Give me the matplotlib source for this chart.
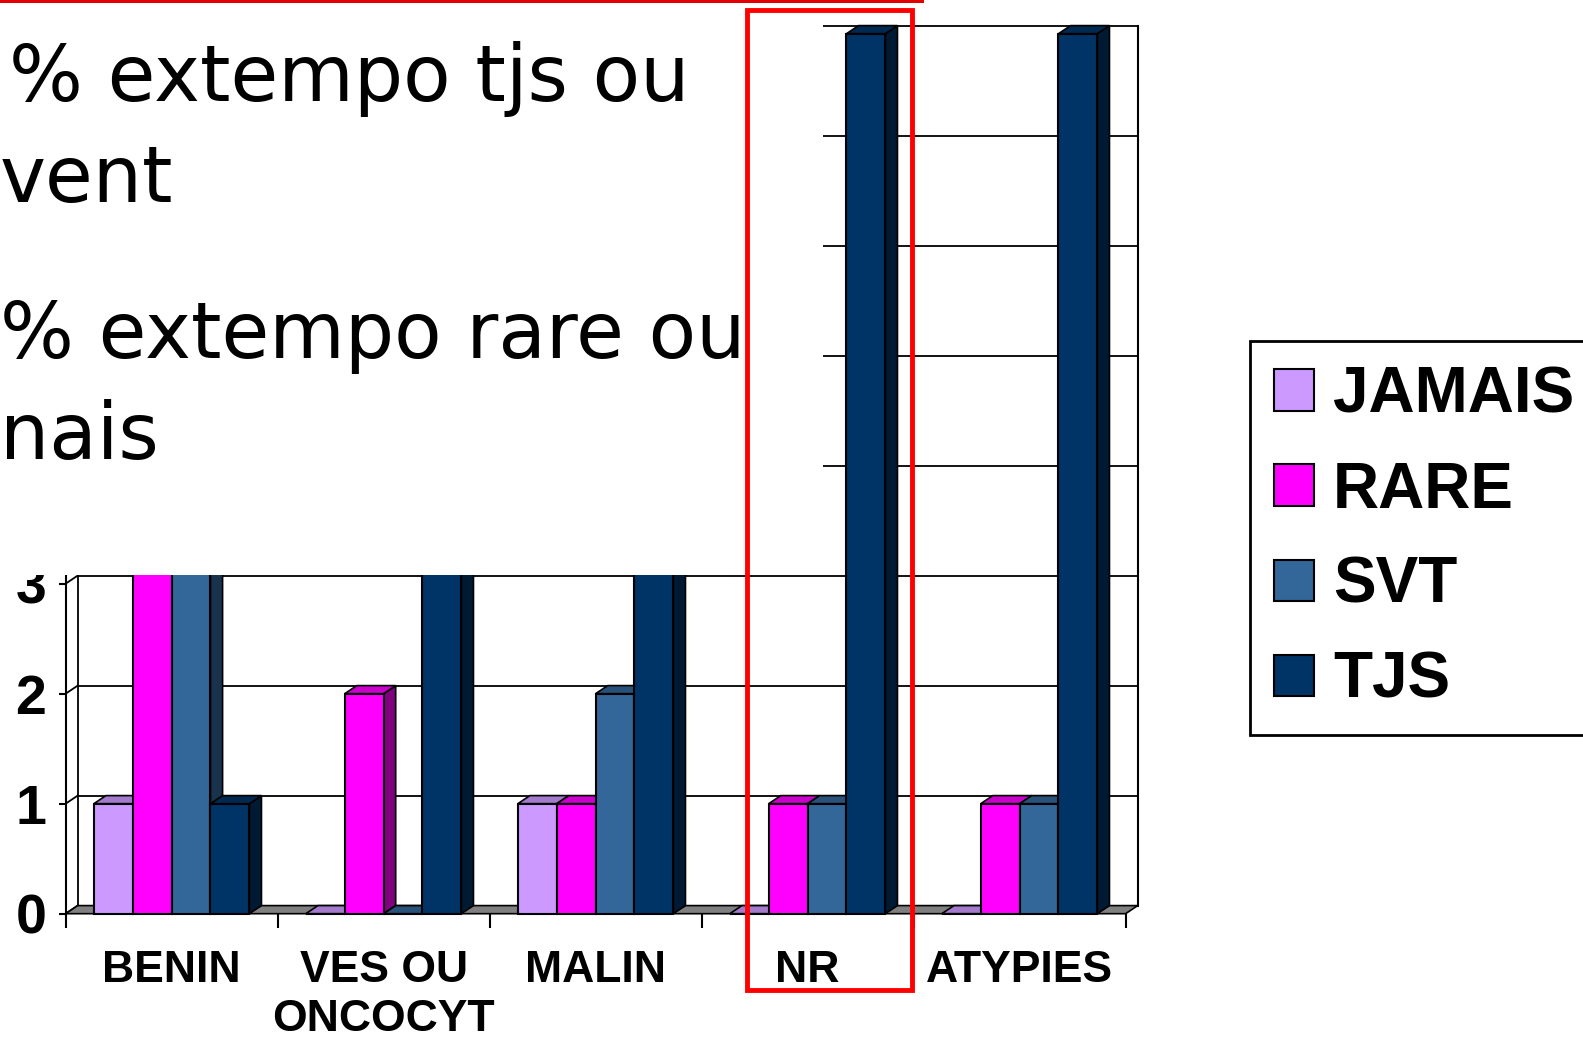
import numpy as np
import matplotlib
matplotlib.use("Agg")
import matplotlib.pyplot as plt
from matplotlib.patches import Polygon, Rectangle
from matplotlib.colors import to_rgb

# data (values above 3 on the left are hidden by the text box)
categories = ["BENIN", "VES OU\nONCOCYT", "MALIN", "NR", "ATYPIES"]
series = ["JAMAIS", "RARE", "SVT", "TJS"]
jamais = [1, 0, 1, 0, 0]
rare = [5, 2, 1, 1, 1]
svt = [4, 0, 2, 1, 1]
tjs = [1, 6, 5, 8, 8]
colors = ["#CC99FF", "#FF00FF", "#336699", "#003366"]
yticks = [0, 1, 2, 3, 4, 5, 6, 7, 8]
ytick_labels = ["0", "1", "2", "3", "", "", "", "", ""]  # upper ones sit under the text box

W, H = 1583, 1041
fig = plt.figure(figsize=(W / 100, H / 100), dpi=100)
ax = fig.add_axes([65.6 / W, 127.3 / H, 1060 / W, 880 / H])
ax.set_xlim(0, 5)
ax.set_ylim(0, 8)
for s in ax.spines.values():
    s.set_visible(False)
ax.patch.set_visible(False)

dx = 12.1 / 212   # depth offset in data units
dy = 8.1 / 110
w = 0.1834
nc = len(categories)

def shade(c, f):
    r, g, b = to_rgb(c)
    return (r * f, g * f, b * f)

# walls, gridlines, floor
for v in yticks:
    ax.plot([dx, nc + dx], [v + dy, v + dy], color="black", lw=1.3, zorder=1, clip_on=False)
    ax.plot([0, dx], [v, v + dy], color="black", lw=1.3, zorder=1, clip_on=False)
ax.plot([0, 0], [0, 8], color="black", lw=1.5, zorder=1, clip_on=False)
ax.plot([dx, dx], [dy, 8 + dy], color="black", lw=1.3, zorder=1, clip_on=False)
ax.plot([nc + dx, nc + dx], [dy, 8 + dy], color="black", lw=1.5, zorder=1, clip_on=False)
ax.add_patch(Polygon([(0, 0), (nc, 0), (nc + dx, dy), (dx, dy)], closed=True,
                     facecolor="#808080", edgecolor="black", lw=1.2, zorder=2, clip_on=False))

# bars: front faces with ax.bar, then top and side faces
values = [jamais, rare, svt, tjs]
x = np.arange(nc)
handles = []
for k, (name, vals, c) in enumerate(zip(series, values, colors)):
    xs = x + 0.5 + (k - 1.5) * w
    cont = ax.bar(xs, vals, width=w, color=c, edgecolor="black", linewidth=1.5,
                  label=name, clip_on=False)
    handles.append(cont)
    for i, p in enumerate(cont.patches):
        base = 10 + (i * 4 + k) * 0.01
        p.set_zorder(base + 0.005)
        x0 = p.get_x()
        h = vals[i]
        ax.add_patch(Polygon([(x0, h), (x0 + w, h), (x0 + w + dx, h + dy), (x0 + dx, h + dy)],
                             closed=True, facecolor=shade(c, 0.8), edgecolor="black",
                             lw=1.2, zorder=base + 0.002, clip_on=False))
        if h > 0:
            ax.add_patch(Polygon([(x0 + w, 0), (x0 + w + dx, dy), (x0 + w + dx, h + dy), (x0 + w, h)],
                                 closed=True, facecolor=shade(c, 0.5), edgecolor="black",
                                 lw=1.2, zorder=base + 0.001, clip_on=False))

# axes ticks
ax.set_yticks(yticks)
ax.set_yticklabels(ytick_labels, fontfamily="Liberation Sans",
                   fontweight="bold", fontsize=40)
ax.tick_params(axis="y", length=5, width=1.5, pad=9)
ax.set_xticks(range(nc + 1))
ax.set_xticklabels([""] * (nc + 1))
ax.tick_params(axis="x", which="major", length=10, width=1.5)
ax.set_xticks(x + 0.5, minor=True)
ax.set_xticklabels(categories, minor=True, fontfamily="Liberation Sans",
                   fontweight="bold", fontsize=32, linespacing=1.25, va="top")
ax.tick_params(axis="x", which="minor", length=0, pad=26)

leg = ax.legend(handles=handles, loc="upper left",
                bbox_to_anchor=(1238 * 1.0096 / W, 1 - 338 * 1.0096 / H),
                bbox_transform=fig.transFigure,
                prop=dict(family="Liberation Sans", weight="bold", size=46),
                frameon=True, fancybox=False, edgecolor="black", framealpha=1,
                handlelength=0.62, handleheight=0.62, handletextpad=0.3,
                labelspacing=0.55, borderpad=0.38, borderaxespad=0)
leg.get_frame().set_linewidth(2)

# slide overlay: white text box, red lines
fig.add_artist(Rectangle((0, 1 - 575 / H), 823 / W, 575 / H, transform=fig.transFigure,
                         facecolor="white", edgecolor="none", zorder=5))
fig.add_artist(Rectangle((0, 1 - 3 / H), 924 / W, 3 / H, transform=fig.transFigure,
                         facecolor="#E00000", edgecolor="none", zorder=6))
fig.add_artist(Rectangle((747 / W, 1 - 990 / H), 165 / W, 980 / H, transform=fig.transFigure,
                         fill=False, edgecolor="red", lw=3.5, zorder=7))

txt = dict(fontsize=56, family="DejaVu Sans", va="baseline", zorder=6)
fig.text(9 / W, 1 - 101 / H, "% extempo tjs ou", **txt)
fig.text(0 / W, 1 - 202 / H, "vent", **txt)
fig.text(0 / W, 1 - 358 / H, "% extempo rare ou", **txt)
fig.text(0 / W, 1 - 459 / H, "nais", **txt)

fig.savefig("out.png", dpi=100)
